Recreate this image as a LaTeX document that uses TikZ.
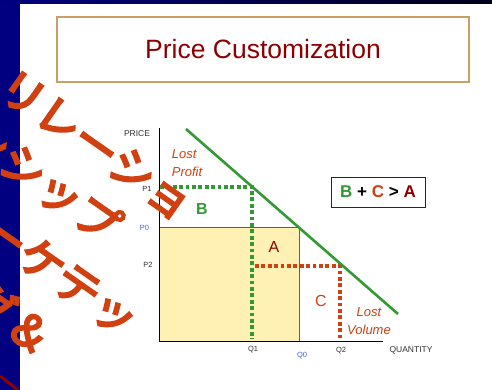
\documentclass[tikz,border=0pt]{standalone}
\usepackage{fontspec}
\setmainfont{Liberation Sans}
\newfontfamily\jpfont[FakeBold=5]{Noto Sans CJK JP}
\usepackage{xcolor}
\usepackage{tikz}
\usetikzlibrary{positioning}
\definecolor{slidenavy}{RGB}{0, 0, 128}
\definecolor{tanframe}{RGB}{200, 160, 100}
\definecolor{titlered}{RGB}{140, 0, 0}
\definecolor{lossred}{RGB}{208, 64, 16}
\definecolor{demandgreen}{RGB}{51, 153, 51}
\definecolor{areayellow}{RGB}{255, 240, 180}
\definecolor{edgeblue}{RGB}{60, 90, 200}
\definecolor{labelblue}{RGB}{60, 100, 220}

\begin{document}
\begin{tikzpicture}[
  x=1pt, y=1pt,
  every node/.style={inner sep=0pt},
  titlebox/.style={draw=tanframe, line width=1.2pt, minimum width=412pt, minimum height=65pt, text=titlered, font=\fontsize{26.5}{30}\selectfont},
  axisname/.style={text=black!80, font=\fontsize{8.5}{10}\selectfont},
  tick/.style={text=black!80, font=\fontsize{7.5}{9}\selectfont},
  bluetick/.style={tick, text=labelblue},
  area/.style={font=\fontsize{16}{18}\selectfont},
  lossnote/.style={text=lossred, font=\itshape\fontsize{13}{18}\selectfont},
  rulebox/.style={draw=black!85, line width=0.8pt, minimum width=94pt, minimum height=30pt, font=\bfseries\fontsize{17}{20}\selectfont},
  jptext/.style={anchor=base west, text=lossred, font=\jpfont\fontsize{45}{45}\selectfont},
  dotline/.style={line width=3.6pt, dash pattern=on 3.8pt off 2.6pt},
  demand/.style={demandgreen, line width=2.6pt},
  pricearea/.style={fill=areayellow, draw=edgeblue, line width=1pt}
]
\useasboundingbox (0,0) rectangle (492,-390);

% slide background
\fill[white] (0,0) rectangle (492,-390);
\fill[slidenavy] (0,0) rectangle (20,-390);
\shade[left color=slidenavy, right color=slidenavy!20!black] (0,0) rectangle (492,-4);

\node[titlebox] (title) at (263,-49.5) {Price Customization};

% chart points
\coordinate (origin) at (159,-341);
\coordinate (ytop) at (159,-128);
\coordinate (xend) at (383,-341);
\coordinate (dtop) at (186,-129);
\coordinate (dend) at (398,-314);
\coordinate (q0top) at (299,-227);
\coordinate (p1) at (160,-187);
\coordinate (e1) at (252,-187);
\coordinate (q1) at (252,-339);
\coordinate (p2) at (255,-266);
\coordinate (e2) at (340,-266);
\coordinate (q2) at (340,-339);

\draw[pricearea] (origin) rectangle (q0top);
\draw[black, line width=1pt] (ytop) -- (origin) -- (xend);
\draw[dotline, demandgreen] (p1) -- (e1) -- (q1);
\draw[dotline, lossred] (p2) -- (e2) -- (q2);
\draw[demand] (dtop) -- (dend);

% axis labels
\node[axisname] (price) at (137,-134) {PRICE};
\node[axisname] (quantity) at (411,-350) {QUANTITY};
\node[tick] (lp1) at (147,-189) {P1};
\node[bluetick] (lp0) at (144.5,-228) {P0};
\node[tick] (lp2) at (148,-265) {P2};
\node[tick] (lq1) at (253,-350) {Q1};
\node[bluetick] (lq0) at (302,-356) {Q0};
\node[tick] (lq2) at (341,-351) {Q2};

% areas and notes
\node[area, font=\bfseries\fontsize{16}{18}\selectfont, text=demandgreen] (areaB) at (202,-209) {B};
\node[area, text=titlered] (areaA) at (274,-247) {A};
\node[area, text=lossred] (areaC) at (321,-301) {C};
\node[lossnote, align=left] (lostprofit) at (187,-163) {Lost\\Profit};
\node[lossnote, align=center] (lostvolume) at (369,-321) {Lost\\Volume};
\node[rulebox] (rule) at (378,-192) {\textcolor{demandgreen}{B} + \textcolor{lossred}{C} > \textcolor{titlered}{A}};

% slanted overlay text
\begin{scope}[rotate=-35, transform shape]
  \node[jptext] (jp1) at (49.5,-80) {リレーショ};
  \node[jptext] (jp2) at (47.5,-140.6) {ンシップ};
  \node[jptext] (jp3) at (71.5,-206.6) {マーケテッ};
  \node[jptext] (jp4) at (146.5,-271) {グ＆};
\end{scope}
\draw[titlered, line width=3pt] (0,-376) -- (18,-390);

\end{tikzpicture}
\end{document}
